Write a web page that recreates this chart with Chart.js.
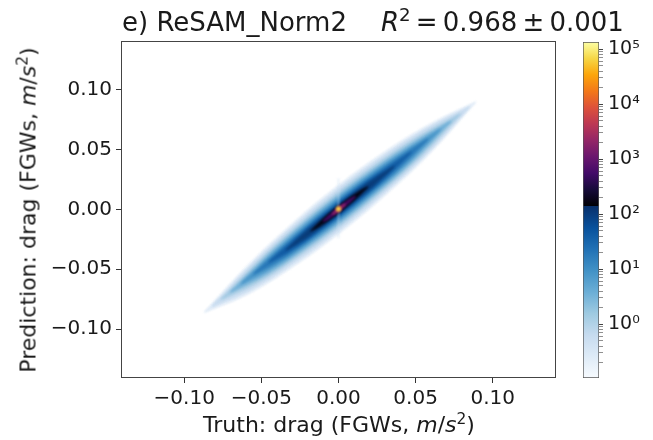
<!DOCTYPE html>
<html>
<head>
<meta charset="utf-8">
<script src="https://cdn.jsdelivr.net/npm/chart.js@4.4.1/dist/chart.umd.min.js"></script>
<style>
  body { margin: 0; background: #fff; }
  #wrap { position: relative; width: 653px; height: 440px; font-family: 'DejaVu Sans', sans-serif; color: #1a1a1a; }
  #main { position: absolute; left: 0; top: 0; }
  #cbar { position: absolute; left: 560px; top: 0; }
  .txt { position: absolute; white-space: nowrap; }
  .sup { font-size: 0.7em; position: relative; top: -0.55em; }
</style>
</head>
<body>
<div id="wrap">
  <canvas id="main" width="653" height="440"></canvas>
  <canvas id="cbar" width="93" height="440"></canvas>
  <div class="txt" id="title" style="left:122px; top:6px; font-size:26px; line-height:32px;">e) ReSAM_Norm2<span style="margin-left:34px"><i>R</i><span class="sup">2</span>&#8201;=&#8201;0.968&#8201;±&#8201;0.001</span></div>
  <div class="txt" id="xtitle" style="left:339px; top:424px; font-size:22px; transform:translate(-50%,-50%);">Truth: drag (FGWs, <i>m</i>/<i>s</i><span class="sup">2</span>)</div>
  <div class="txt" id="ytitle" style="left:28px; top:210px; font-size:22px; transform:translate(-50%,-50%) rotate(-90deg);">Prediction: drag (FGWs, <i>m</i>/<i>s</i><span class="sup">2</span>)</div>
</div>
<script>
// axes
const xTicks = [-0.10, -0.05, 0.00, 0.05, 0.10];
const yTicks = [-0.10, -0.05, 0.00, 0.05, 0.10];
const axisMin = -0.141;
const axisMax = 0.141;

// density levels, outer to inner (truth x, prediction upper / lower edge)
const levelColors = ['#dde9f6', '#c6dbef', '#a0c9e2', '#6eaed7', '#4795c8', '#2877b8',
                     '#115ba3', '#0a3d7a', '#050310', '#4d0d6c', '#9b2964'];
const levelX = [
    [-0.087, -0.058, -0.029, 0, 0.030, 0.059, 0.089],
    [-0.082, -0.055, -0.027, 0, 0.028, 0.057, 0.085],
    [-0.076, -0.051, -0.025, 0, 0.026, 0.053, 0.079],
    [-0.070, -0.047, -0.023, 0, 0.024, 0.049, 0.073],
    [-0.063, -0.042, -0.021, 0, 0.022, 0.044, 0.066],
    [-0.055, -0.037, -0.018, 0, 0.019, 0.039, 0.058],
    [-0.045, -0.030, -0.015, 0, 0.016, 0.031, 0.047],
    [-0.034, -0.023, -0.011, 0, 0.012, 0.024, 0.036],
    [-0.018, -0.012, -0.006, 0, 0.006, 0.013, 0.019],
    [-0.010, -0.007, -0.0035, 0, 0.0037, 0.0075, 0.011],
    [-0.004, -0.0027, -0.0013, 0, 0.0014, 0.0028, 0.0045]
];
const levelUpper = [
    [-0.086, -0.046, -0.011, 0.020, 0.048, 0.071, 0.090],
    [-0.081, -0.0448, -0.0117, 0.017, 0.0433, 0.0672, 0.086],
    [-0.075, -0.0426, -0.0124, 0.014, 0.0386, 0.0614, 0.080],
    [-0.069, -0.0401, -0.0126, 0.0115, 0.0344, 0.0559, 0.074],
    [-0.062, -0.0365, -0.0127, 0.0092, 0.0303, 0.0495, 0.067],
    [-0.054, -0.0327, -0.0115, 0.0072, 0.0255, 0.0433, 0.059],
    [-0.044, -0.0267, -0.010, 0.0055, 0.021, 0.0343, 0.048],
    [-0.034, -0.0206, -0.0074, 0.004, 0.0156, 0.0264, 0.036],
    [-0.018, -0.0104, -0.0036, 0.0026, 0.0084, 0.0146, 0.019],
    [-0.010, -0.006, -0.002, 0.0017, 0.0052, 0.0085, 0.011],
    [-0.004, -0.002, -0.0002, 0.0012, 0.0026, 0.0036, 0.0045]
];
const levelLower = [
    [-0.086, -0.070, -0.047, -0.020, 0.012, 0.047, 0.090],
    [-0.081, -0.0652, -0.0423, -0.017, 0.0127, 0.0468, 0.086],
    [-0.075, -0.0594, -0.0376, -0.014, 0.0134, 0.0446, 0.080],
    [-0.069, -0.0539, -0.0334, -0.0115, 0.0136, 0.0421, 0.074],
    [-0.062, -0.0475, -0.0293, -0.0092, 0.0137, 0.0385, 0.067],
    [-0.054, -0.0413, -0.0245, -0.0072, 0.0125, 0.0347, 0.059],
    [-0.044, -0.0333, -0.020, -0.0055, 0.011, 0.0277, 0.048],
    [-0.034, -0.0254, -0.0146, -0.004, 0.0084, 0.0216, 0.036],
    [-0.018, -0.0136, -0.0084, -0.0026, 0.0036, 0.0114, 0.019],
    [-0.010, -0.008, -0.005, -0.0017, 0.0022, 0.0065, 0.011],
    [-0.004, -0.0034, -0.0024, -0.0012, 0.0002, 0.002, 0.0045]
];
const peakPoint = [{x: 0.0, y: 0.0005}];
const zeroStreak = [{x: 0.0, y: -0.024}, {x: 0.0, y: 0.026}];

// colorbar
const cbarMin = 0.105;
const cbarMax = 135000;
const cbarMajor = [1, 10, 100, 1000, 10000, 100000];
const cbarLabels = ['10\u2070', '10\u00b9', '10\u00b2', '10\u00b3', '10\u2074', '10\u2075'];
const cbarStopValues = [0.105, 0.258, 0.633, 1.56, 3.83, 9.4, 23.1, 56.8, 140,
                        140, 278, 552, 1099, 2183, 4341, 8630, 17170, 34140, 67900, 135000];
const cbarStopColors = ['#f7fbff', '#deebf7', '#c6dbef', '#9ecae1', '#6baed6', '#4292c6', '#2171b5', '#08519c', '#08306b',
                        '#000004', '#160b39', '#420a68', '#6a176e', '#932667', '#bc3754', '#dd513a', '#f37819', '#fca50a', '#f6d746', '#fcffa4'];

const tickFont = {family: "'DejaVu Sans', sans-serif", size: 20};
const fmt = v => (v < 0 ? '\u2212' : '') + Math.abs(v).toFixed(2);

const frame = {
    id: 'frame',
    afterDraw(chart) {
        const {ctx, chartArea: a} = chart;
        ctx.save();
        ctx.strokeStyle = '#444';
        ctx.lineWidth = 1;
        ctx.strokeRect(Math.round(a.left) + 0.5, Math.round(a.top) + 0.5,
                       Math.round(a.right - a.left) - 1, Math.round(a.bottom - a.top) - 1);
        ctx.restore();
    }
};

// soften the level edges a little, like the smoothed density in the original
const soften = {
    id: 'soften',
    beforeDatasetsDraw(chart) {
        chart.ctx.save();
        chart.ctx.filter = 'blur(1.2px)';
    },
    afterDatasetsDraw(chart) {
        chart.ctx.restore();
    }
};

const n = levelColors.length;
const datasets = levelColors.map((color, i) => {
    const upper = levelX[i].map((x, j) => ({x: x, y: levelUpper[i][j]}));
    const lower = levelX[i].map((x, j) => ({x: x, y: levelLower[i][j]})).reverse();
    return {
        data: upper.concat(lower),
        showLine: true,
        fill: 'shape',
        tension: 0.4,
        backgroundColor: color,
        borderColor: color,
        borderWidth: 1,
        pointRadius: 0,
        order: n + 2 - i
    };
});
datasets.push({
    data: zeroStreak,
    showLine: true,
    borderColor: 'rgba(200,222,242,0.55)',
    borderWidth: 1.5,
    pointRadius: 0,
    order: 4
});
datasets.push({
    data: peakPoint,
    pointRadius: 2.5,
    backgroundColor: '#f7d64a',
    borderColor: '#f3a33a',
    borderWidth: 0.5,
    order: 0
});

function axis(ticks) {
    return {
        type: 'linear',
        min: axisMin,
        max: axisMax,
        afterBuildTicks: s => { s.ticks = ticks.map(v => ({value: v})); },
        ticks: {font: tickFont, color: '#1a1a1a', padding: 4, callback: v => fmt(v)},
        grid: {drawOnChartArea: false, drawTicks: true, tickLength: 5, tickColor: '#333', tickWidth: 1},
        border: {display: false}
    };
}

const xAxis = axis(xTicks);
xAxis.afterFit = s => { s.height = 62; };
const yAxis = axis(yTicks);
yAxis.afterFit = s => { s.width = 121; };

new Chart(document.getElementById('main'), {
    type: 'scatter',
    data: {datasets: datasets},
    options: {
        responsive: false,
        animation: false,
        devicePixelRatio: 1,
        layout: {padding: {left: 0, top: 41, right: 97, bottom: 0}},
        plugins: {legend: {display: false}, tooltip: {enabled: false}},
        scales: {x: xAxis, y: yAxis}
    },
    plugins: [soften, frame]
});

// colorbar
function cbarGradient(context) {
    const chart = context.chart;
    if (!chart.chartArea) return '#888';
    const y = chart.scales.y;
    const p0 = y.getPixelForValue(cbarMin);
    const p1 = y.getPixelForValue(cbarMax);
    const g = chart.ctx.createLinearGradient(0, p0, 0, p1);
    cbarStopValues.forEach((v, i) => {
        const off = (p0 - y.getPixelForValue(v)) / (p0 - p1);
        g.addColorStop(Math.min(1, Math.max(0, off)), cbarStopColors[i]);
    });
    return g;
}

new Chart(document.getElementById('cbar'), {
    type: 'bar',
    data: {
        labels: ['c'],
        datasets: [{
            data: [[cbarMin, cbarMax]],
            backgroundColor: cbarGradient,
            borderColor: '#555',
            borderWidth: 1,
            borderSkipped: false,
            barPercentage: 1,
            categoryPercentage: 1
        }]
    },
    options: {
        responsive: false,
        animation: false,
        devicePixelRatio: 1,
        layout: {padding: {left: 23, top: 42, right: 0, bottom: 62}},
        plugins: {legend: {display: false}, tooltip: {enabled: false}},
        scales: {
            x: {display: false},
            y: {
                type: 'logarithmic',
                position: 'right',
                min: cbarMin,
                max: cbarMax,
                afterBuildTicks: s => {
                    const t = [];
                    cbarMajor.forEach(m => {
                        t.push({value: m, major: true});
                        for (let k = 2; k <= 9; k++) {
                            if (m * k <= cbarMax) t.push({value: m * k});
                        }
                    });
                    for (let k = 2; k <= 9; k++) t.push({value: 0.1 * k});
                    s.ticks = t;
                },
                afterFit: s => { s.width = 54; },
                ticks: {
                    font: {family: "'DejaVu Sans', sans-serif", size: 19},
                    color: '#1a1a1a',
                    padding: 5,
                    autoSkip: false,
                    callback: v => {
                        const i = cbarMajor.indexOf(v);
                        return i >= 0 ? cbarLabels[i] : '';
                    }
                },
                grid: {
                    drawOnChartArea: false,
                    tickLength: 4,
                    tickColor: '#444',
                    tickWidth: ctx => (ctx.tick && cbarMajor.indexOf(ctx.tick.value) >= 0 ? 1 : 0.6)
                },
                border: {display: false}
            }
        }
    }
});
</script>
</body>
</html>
